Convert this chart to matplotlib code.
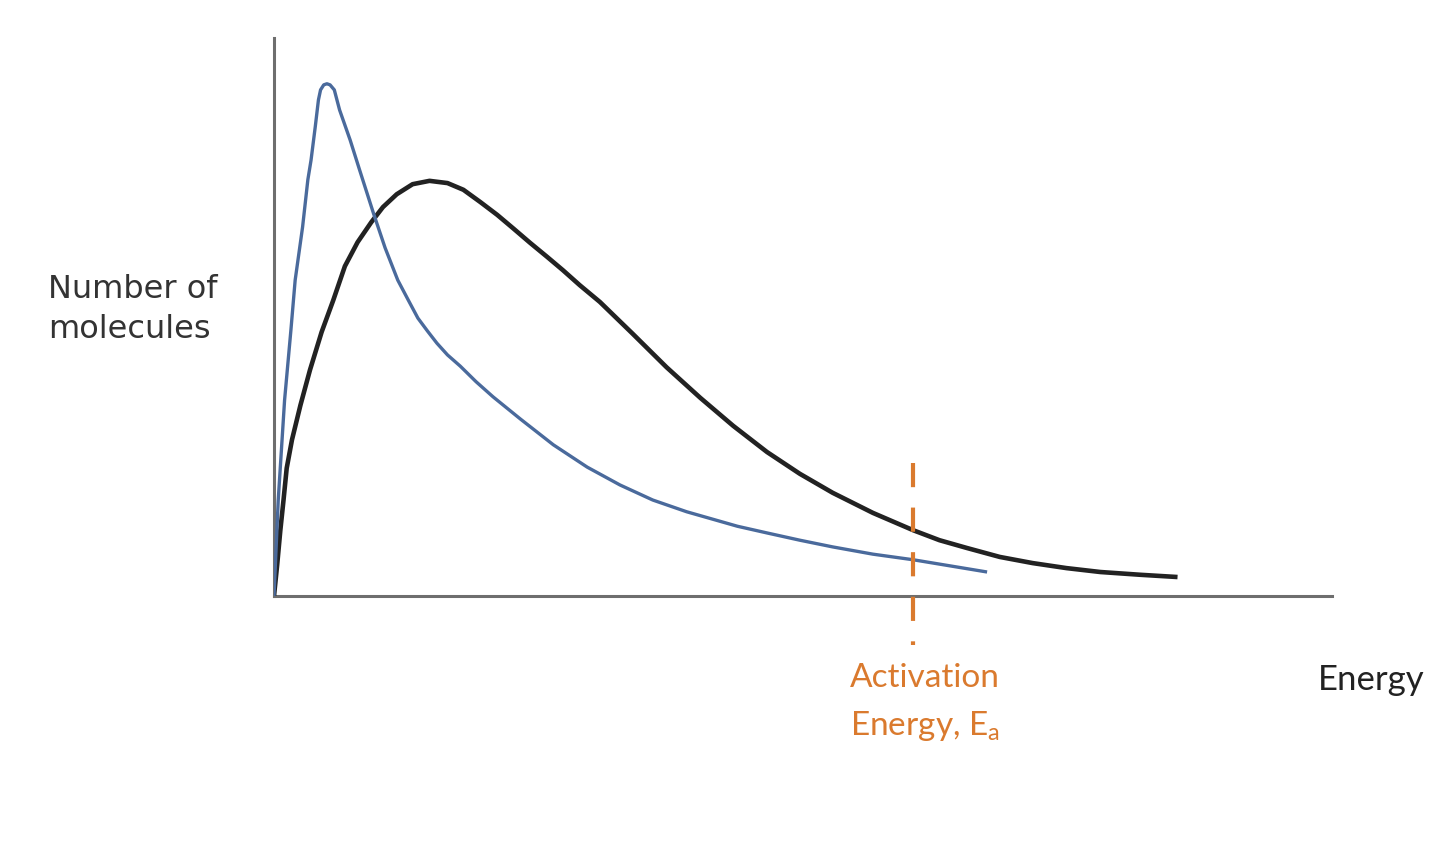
import matplotlib

matplotlib.use("Agg")
import matplotlib.pyplot as plt

# Curves (energy, number of molecules), axis span 0..10 each.
blue_energy = [0.00, 0.04, 0.10, 0.16, 0.20, 0.27, 0.32, 0.35, 0.39, 0.42, 0.44,
               0.47, 0.50, 0.53, 0.57, 0.62, 0.72, 0.81, 0.94, 1.05, 1.17, 1.27,
               1.36, 1.45, 1.54, 1.64, 1.76, 1.91, 2.07, 2.33, 2.64, 2.96, 3.27,
               3.58, 3.90, 4.38, 4.66, 4.97, 5.28, 5.66, 6.04, 6.39, 6.74]
blue_count = [0.00, 1.72, 3.51, 4.77, 5.66, 6.61, 7.46, 7.81, 8.41, 8.89, 9.07,
              9.16, 9.18, 9.16, 9.07, 8.71, 8.17, 7.63, 6.86, 6.24, 5.66, 5.30,
              4.98, 4.75, 4.53, 4.32, 4.12, 3.84, 3.57, 3.17, 2.71, 2.31, 1.99,
              1.72, 1.51, 1.25, 1.13, 1.00, 0.88, 0.75, 0.65, 0.54, 0.43]

black_energy = [0.00, 0.03, 0.06, 0.09, 0.12, 0.17, 0.25, 0.34, 0.45, 0.56, 0.67,
                0.79, 0.92, 1.03, 1.16, 1.31, 1.47, 1.64, 1.79, 1.95, 2.11, 2.26,
                2.42, 2.58, 2.73, 2.89, 3.08, 3.39, 3.71, 4.03, 4.34, 4.66, 4.97,
                5.28, 5.66, 6.04, 6.29, 6.55, 6.86, 7.17, 7.49, 7.81, 8.19, 8.54]
black_count = [0.00, 0.56, 1.18, 1.72, 2.29, 2.80, 3.42, 4.05, 4.73, 5.30, 5.91,
               6.34, 6.70, 6.97, 7.20, 7.38, 7.44, 7.40, 7.28, 7.06, 6.83, 6.59,
               6.33, 6.08, 5.84, 5.57, 5.27, 4.70, 4.10, 3.55, 3.05, 2.58, 2.19,
               1.85, 1.49, 1.18, 1.00, 0.86, 0.70, 0.59, 0.50, 0.43, 0.38, 0.34]

activation_energy = 6.04
activation_span = (2.38, -0.88)

ORANGE = "#da7a2e"
BLUE = "#4a6a9c"
AXIS = "#6e6e6e"

fig = plt.figure(figsize=(14.4, 8.49), dpi=100)
fig.patch.set_facecolor("white")
ax = fig.add_axes([274 / 1440, 1 - 596 / 849, 1058 / 1440, 558 / 849])
ax.set_xlim(0, 10)
ax.set_ylim(0, 10)
ax.set_xticks([])
ax.set_yticks([])
for s in ("top", "right"):
    ax.spines[s].set_visible(False)
for s in ("left", "bottom"):
    ax.spines[s].set_color(AXIS)
    ax.spines[s].set_linewidth(2.2)

ax.plot(black_energy, black_count, color="#222222", linewidth=3.3,
        solid_capstyle="butt", solid_joinstyle="round", zorder=3)
ax.plot(blue_energy, blue_count, color=BLUE, linewidth=2.4,
        solid_capstyle="butt", solid_joinstyle="round", zorder=4)
ax.plot([activation_energy, activation_energy], activation_span, color=ORANGE,
        linewidth=3.0, dashes=(5.8, 4.9), clip_on=False, zorder=5)

fig.text(48 / 1440, 1 - 298 / 849, "Number of", fontsize=23, color="#333333",
         family="DejaVu Sans", va="baseline")
fig.text(48 / 1440, 1 - 338 / 849, "molecules", fontsize=23, color="#333333",
         family="DejaVu Sans", va="baseline")

fig.text(850 / 1440, 1 - 687 / 849, "Activation", fontsize=24, color=ORANGE,
         family="Lato", va="baseline")
fig.text(850 / 1440, 1 - 735 / 849, r"Energy, E$_\mathregular{a}$", fontsize=24,
         color=ORANGE, family="Lato", va="baseline")
fig.text(1318 / 1440, 1 - 690 / 849, "Energy", fontsize=25, color="#222222",
         family="Lato", va="baseline")

fig.savefig("out.png", dpi=100, facecolor="white")
